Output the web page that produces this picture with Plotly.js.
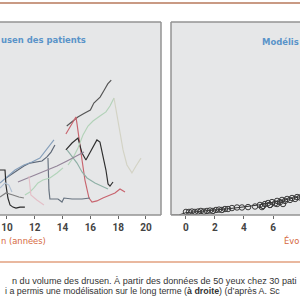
<!DOCTYPE html>
<html><head><meta charset="utf-8">
<script src="https://cdn.plot.ly/plotly-3.0.1.min.js"></script>
<style>html,body{margin:0;padding:0;background:#fff}#c{width:300px;height:300px}</style>
</head><body><div id="c"></div>
<script>
// Left panel: drusen volume per patient over age (years)
const s1x=[14.3,14.75,15.1,15.6,16.0,16.25,16.7,17.0,17.25,17.5];
const s1y=[0.461,0.487,0.508,0.528,0.544,0.580,0.611,0.648,0.679,0.699];
const s2x=[14.24,14.53,14.82,14.96,15.04,15.18,15.4,15.61,15.9,16.12,16.47,16.9,17.41,17.77,18.13,18.49];
const s2y=[0.420,0.456,0.492,0.508,0.472,0.389,0.285,0.181,0.088,0.067,0.073,0.088,0.104,0.114,0.135,0.119];
const s3x=[14.24,14.68,15.11,15.4,15.68,15.97,16.47,16.69,16.91,17.12,17.27,17.41,17.63];
const s3y=[0.337,0.373,0.399,0.321,0.285,0.326,0.389,0.378,0.311,0.233,0.161,0.150,0.171];
const s4x=[14.39,14.75,15.11,15.47,15.83,16.19,16.69,17.12,17.41,17.7];
const s4y=[0.259,0.295,0.347,0.415,0.461,0.487,0.513,0.534,0.565,0.606];
const s5x=[17.7,17.91,18.13,18.35,18.63,18.99,19.28,19.64];
const s5y=[0.606,0.518,0.430,0.337,0.259,0.218,0.254,0.295];
const s6x=[14.32,14.68,15.04,15.4,15.76,16.33,16.83,17.27];
const s6y=[0.337,0.301,0.269,0.223,0.192,0.166,0.150,0.135];
const s7x=[12.95,12.97,13.02,13.09,13.67,13.96,14.1,14.68,15.4,15.97];
const s7y=[0.295,0.207,0.130,0.083,0.083,0.067,0.088,0.083,0.083,0.088];
const s8x=[10.79,11.87,12.73,13.6,14.32,15.04,15.54];
const s8y=[0.171,0.202,0.228,0.254,0.280,0.306,0.326];
const s9x=[9.93,10.36,10.79,11.22,11.65,12.09,12.52,12.88,13.17,13.45];
const s9y=[0.192,0.212,0.233,0.254,0.269,0.275,0.280,0.301,0.326,0.363];
const s10x=[9.5,10.07,10.58,11.22,11.8,12.37,12.81,13.09,13.38];
const s10y=[0.166,0.202,0.233,0.259,0.275,0.295,0.337,0.363,0.389];
const s11x=[9.5,9.86,9.93,10.07,10.22,10.43,10.65,10.94,11.29];
const s11y=[0.233,0.233,0.155,0.088,0.052,0.041,0.036,0.041,0.041];
const s12x=[9.5,9.93,10.43,10.86,11.22];
const s12y=[0.093,0.114,0.104,0.093,0.088];
const s13x=[11.29,11.65,11.94,12.23,12.59,13.09,13.6,14.03];
const s13y=[0.104,0.119,0.140,0.166,0.181,0.192,0.218,0.244];
const s14x=[11.58,11.65,11.72,12.15,12.66];
const s14y=[0.202,0.150,0.104,0.078,0.052];
const s15x=[9.5,9.86,10.14,10.36];
const s15y=[0.140,0.166,0.155,0.119];
const leftColors=['#555555','#c8646e','#2e2e2e','#b2d2b8','#d3d3c5','#8fb0a6','#66727f','#94859a','#5d6776','#869fba','#2a2a2a','#808080','#b2d4ba','#e4c0c8','#afbfd2'];
const leftX=[s1x,s2x,s3x,s4x,s5x,s6x,s7x,s8x,s9x,s10x,s11x,s12x,s13x,s14x,s15x];
const leftY=[s1y,s2y,s3y,s4y,s5y,s6y,s7y,s8y,s9y,s10y,s11y,s12y,s13y,s14y,s15y];

// Right panel: modelled drusen volume
const ptX=[0,0.21,0.41,0.62,0.83,1.03,1.24,1.45,1.66,1.86,2.07,2.28,2.48,2.69,2.9,3.17,3.52,3.86,4.28,4.76,5.1,5.24,5.45,5.66,5.79,5.93,6.14,6.28,6.48,6.62,6.83,6.97,7.17,7.31,7.52,7.66,7.86,5.31,5.79,6.28,6.69];
const ptY=[0.016,0.016,0.018,0.016,0.018,0.021,0.018,0.021,0.023,0.021,0.026,0.028,0.026,0.031,0.031,0.036,0.039,0.039,0.041,0.044,0.052,0.041,0.057,0.062,0.052,0.067,0.060,0.073,0.067,0.078,0.073,0.083,0.078,0.088,0.083,0.093,0.091,0.047,0.052,0.057,0.057];
const modelX=[-1,-0.5,0,1,2,3,4,5,6,7,7.9];
const modelY=[0,0,0.012,0.018,0.025,0.033,0.042,0.052,0.066,0.080,0.095];

const traces=[];
for(let i=0;i<leftX.length;i++){
  traces.push({x:leftX[i],y:leftY[i],type:'scatter',mode:'lines',xaxis:'x',yaxis:'y',
    line:{color:leftColors[i],width:1.15},hoverinfo:'skip',showlegend:false});
}
traces.push({x:modelX,y:modelY,type:'scatter',mode:'lines',xaxis:'x2',yaxis:'y2',line:{color:'#333',width:1},showlegend:false});
traces.push({x:ptX,y:ptY,type:'scatter',mode:'markers',xaxis:'x2',yaxis:'y2',
  marker:{symbol:'circle-open',size:5.5,color:'#3a3a3a',line:{width:1,color:'#3a3a3a'}},showlegend:false});

const yb=(300-215)/300, yt=(300-22)/300, lr=161/300, rl=171/300;
const fr='#939393';
const tickFont={family:'Roboto, DejaVu Sans',size:10,color:'#444',weight:'bold'};
const narrow='DejaVu Sans Condensed, DejaVu Sans';
const capFont={family:'Liberation Sans, Arial',size:9.1,color:'#333'};
const layout={
  width:300,height:300,margin:{l:0,r:0,t:0,b:0},
  paper_bgcolor:'#ffffff',plot_bgcolor:'#e6e7e8',showlegend:false,
  xaxis:{domain:[0,lr],range:[9.5,21.08],tickvals:[10,12,14,16,18,20],ticks:'outside',ticklen:3,tickcolor:'#666',
    showgrid:false,zeroline:false,showline:false,tickfont:tickFont},
  yaxis:{domain:[yb,yt],range:[0,1],visible:false},
  xaxis2:{domain:[rl,1],range:[-1.03,7.86],tickvals:[0,2,4,6],ticks:'outside',ticklen:3,tickcolor:'#666',
    showgrid:false,zeroline:false,showline:false,tickfont:tickFont,anchor:'y2'},
  yaxis2:{domain:[yb,yt],range:[0,1],visible:false,anchor:'x2'},
  shapes:[
    {type:'rect',xref:'paper',yref:'paper',x0:rl,x1:1,y0:yb,y1:yt,fillcolor:'#e6e7e8',line:{width:0},layer:'below'},
    {type:'line',xref:'paper',yref:'paper',x0:0,x1:lr,y0:yt,y1:yt,line:{color:fr,width:1.5}},
    {type:'line',xref:'paper',yref:'paper',x0:lr,x1:lr,y0:yb,y1:yt,line:{color:fr,width:1.5}},
    {type:'line',xref:'paper',yref:'paper',x0:0,x1:lr,y0:yb,y1:yb,line:{color:fr,width:1.5}},
    {type:'line',xref:'paper',yref:'paper',x0:rl,x1:1,y0:yt,y1:yt,line:{color:fr,width:1.5}},
    {type:'line',xref:'paper',yref:'paper',x0:rl,x1:rl,y0:yb,y1:yt,line:{color:fr,width:1.5}},
    {type:'line',xref:'paper',yref:'paper',x0:rl,x1:1,y0:yb,y1:yb,line:{color:fr,width:1.5}},
    {type:'line',xref:'paper',yref:'paper',x0:0,x1:1,y0:(300-3)/300,y1:(300-3)/300,line:{color:'#c99a84',width:2}},
    {type:'line',xref:'paper',yref:'paper',x0:0,x1:1,y0:(300-262)/300,y1:(300-262)/300,line:{color:'#e2a07f',width:1.5}}
  ],
  annotations:[
    {text:'<b>usen des patients</b>',xref:'paper',yref:'paper',x:0,y:(300-40)/300,xanchor:'left',yanchor:'middle',align:'left',showarrow:false,borderpad:0,
      font:{family:narrow,size:9.4,color:'#5a94c9'}},
    {text:'<b>Modélis</b>',xref:'paper',yref:'paper',x:261/300,y:(300-41)/300,xanchor:'left',yanchor:'middle',align:'left',showarrow:false,borderpad:0,
      font:{family:narrow,size:9.4,color:'#5a94c9'}},
    {text:'n (années)',xref:'paper',yref:'paper',x:0,y:(300-240)/300,xanchor:'left',yanchor:'middle',align:'left',showarrow:false,borderpad:0,
      font:{family:narrow,size:9.3,color:'#d5693e'}},
    {text:'Évo',xref:'paper',yref:'paper',x:283/300,y:(300-240)/300,xanchor:'left',yanchor:'middle',align:'left',showarrow:false,borderpad:0,
      font:{family:narrow,size:9.3,color:'#d5693e'}},
    {text:'n du volume des drusen. À partir des données de 50 yeux chez 30 pati',xref:'paper',yref:'paper',x:11/300,y:(300-281)/300,xanchor:'left',yanchor:'middle',align:'left',showarrow:false,borderpad:0,
      font:capFont},
    {text:'i a permis une modélisation sur le long terme (<b>à droite</b>) (d’après A. Sc',xref:'paper',yref:'paper',x:4/300,y:(300-291)/300,xanchor:'left',yanchor:'middle',align:'left',showarrow:false,borderpad:0,
      font:{family:'Liberation Sans, Arial',size:8.9,color:'#333'}}
  ]
};
Plotly.newPlot('c',traces,layout,{displayModeBar:false,staticPlot:true});
</script></body></html>
